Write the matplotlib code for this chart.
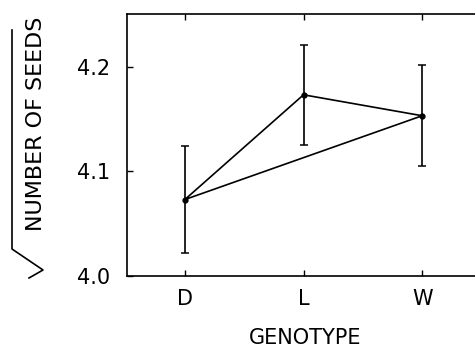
import matplotlib
matplotlib.use("Agg")
import matplotlib.pyplot as plt
from matplotlib.lines import Line2D

# sqrt(number of seeds) by genotype, with error bars
genotypes = ["D", "L", "W"]
means = [4.073, 4.173, 4.153]
err_low = [4.022, 4.125, 4.105]
err_high = [4.124, 4.221, 4.201]

x = list(range(1, len(genotypes) + 1))
yerr = [[m - lo for m, lo in zip(means, err_low)],
        [hi - m for m, hi in zip(means, err_high)]]

W, H = 475, 353
fig = plt.figure(figsize=(W / 100, H / 100), dpi=100)
# right spine sits just outside the figure, as in the source scan
ax = fig.add_axes([0.2667, 0.218, 0.752, 0.742])

# closed triangle D -> L -> W -> D
ax.plot(x + [x[0]], means + [means[0]], color="black", linewidth=1.2, zorder=2)
ax.errorbar(x, means, yerr=yerr, fmt="o", color="black", markersize=3.5,
            elinewidth=1.2, capsize=2.8, capthick=1.1, zorder=3)

ax.set_xlim(0.51, 3.52)
ax.set_ylim(4.0, 4.25)
ax.set_xticks(x)
ax.set_xticklabels(genotypes)
ax.set_yticks([4.0, 4.1, 4.2])
ax.set_yticklabels(["4.0", "4.1", "4.2"])
ax.tick_params(direction="in", length=4, width=1, labelsize=15,
               top=True, right=False)
ax.tick_params(axis="x", pad=9)
ax.tick_params(axis="y", pad=12)
for sp in ax.spines.values():
    sp.set_linewidth(1.2)

ax.set_xlabel("GENOTYPE", fontsize=15, labelpad=14)

# y label: rotated text under a hand-drawn radical sign
fig.text(36 / W, 1 - 124 / H, "NUMBER OF SEEDS", rotation=90, fontsize=16,
         ha="center", va="center")
rad_px = [(12, 30), (12, 249), (43, 270), (29, 278)]
fig.add_artist(Line2D([p[0] / W for p in rad_px], [1 - p[1] / H for p in rad_px],
                      color="black", linewidth=1.2, transform=fig.transFigure))

fig.savefig("out.png", dpi=100)
